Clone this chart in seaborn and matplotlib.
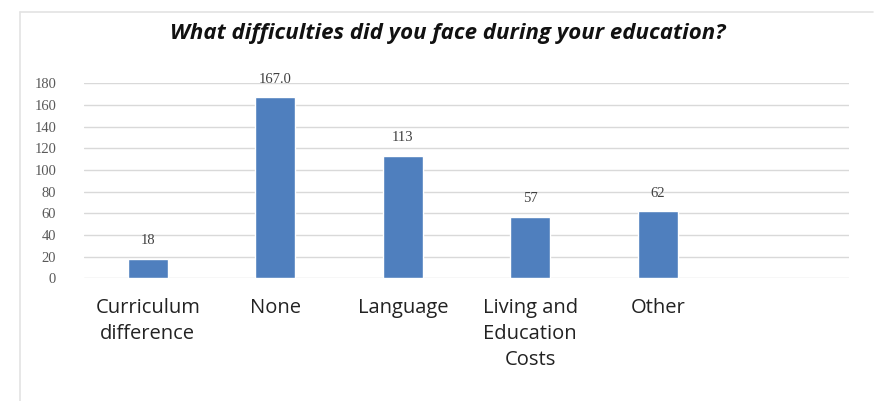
import matplotlib
matplotlib.use("Agg")
import matplotlib.pyplot as plt
import seaborn as sns
import pandas as pd
from matplotlib.lines import Line2D

categories = ["Curriculum\ndifference", "None", "Language", "Living and\nEducation\nCosts", "Other"]
values = [18, 167, 113, 57, 62]
value_labels = ["18", "167.0", "113", "57", "62"]
yticks = [0, 20, 40, 60, 80, 100, 120, 140, 160, 180]
title = "What difficulties did you face during your education?"

sns.set_theme(style="white")
plt.rcParams['font.family'] = ['Open Sans', 'DejaVu Sans']

fig = plt.figure(figsize=(8.75, 4.01), dpi=100)
fig.patch.set_facecolor("white")
ax = fig.add_axes([84/875, 1-278.3/401, 765/875, (278.3-83.3)/401])

df = pd.DataFrame({"cat": categories, "val": values})
sns.barplot(data=df, x="cat", y="val", color="#4F7FBE", saturation=1, width=0.31, ax=ax, zorder=3)

ax.set_xlim(-0.5, 5.5)
ax.set_ylim(0, 180)
ax.set_yticks(yticks)
ax.set_yticklabels([str(t) for t in yticks], family="Liberation Serif", fontsize=10.5, color="#595959")
ax.yaxis.grid(True, color="#D9D9D9", linewidth=1.0, zorder=0)
ax.set_axisbelow(True)
for s in ax.spines.values():
    s.set_visible(False)
ax.tick_params(axis="y", length=0, pad=20)
ax.tick_params(axis="x", length=0, pad=14)
for lab in ax.get_xticklabels():
    lab.set_fontsize(14.5)
    lab.set_color("#222222")
    lab.set_linespacing(1.42)
ax.set_xlabel("")
ax.set_ylabel("")

for p, lbl in zip(ax.patches, value_labels):
    ax.annotate(lbl, (p.get_x() + p.get_width()/2, p.get_height()),
                xytext=(0, 13), textcoords="offset points", ha="center", va="center",
                family="Liberation Serif", fontsize=10.5, color="#404040", annotation_clip=False)

fig.text(448/875, 1-33/401, title, ha="center", va="center", fontsize=16,
         fontweight="bold", fontstyle="italic", color="#111111")

ytop = 1-12/401
xl = 20/875
fig.lines.append(Line2D([xl, 873/875], [ytop, ytop], transform=fig.transFigure, color="#E3E3E3", linewidth=1.2))
fig.lines.append(Line2D([xl, xl], [0, ytop], transform=fig.transFigure, color="#E3E3E3", linewidth=1.2))

fig.savefig("out.png", dpi=100, facecolor="white")
